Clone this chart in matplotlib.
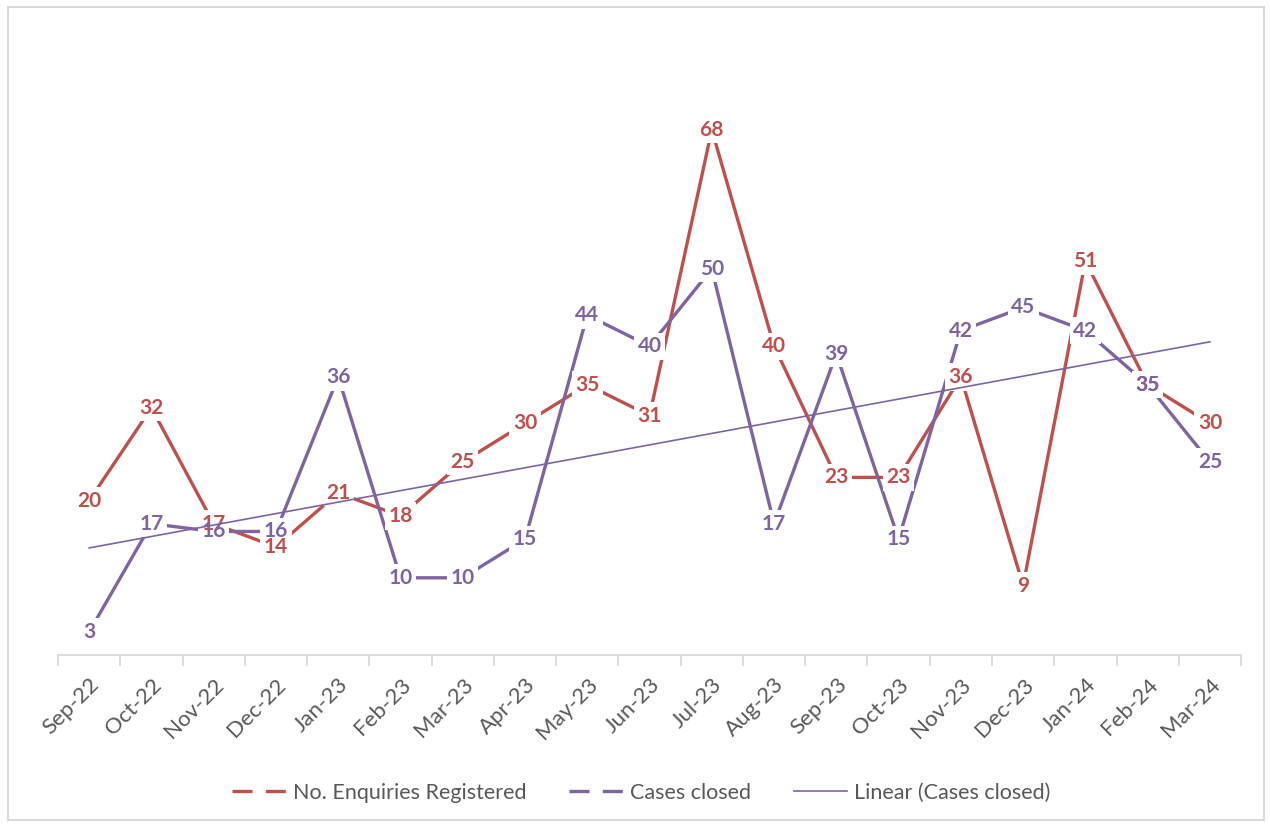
import numpy as np
import matplotlib.pyplot as plt
from matplotlib.lines import Line2D
from matplotlib.patches import Rectangle

months = ['Sep-22', 'Oct-22', 'Nov-22', 'Dec-22', 'Jan-23', 'Feb-23', 'Mar-23',
          'Apr-23', 'May-23', 'Jun-23', 'Jul-23', 'Aug-23', 'Sep-23', 'Oct-23',
          'Nov-23', 'Dec-23', 'Jan-24', 'Feb-24', 'Mar-24']
enquiries = [20, 32, 17, 14, 21, 18, 25, 30, 35, 31, 68, 40, 23, 23, 36, 9, 51, 35, 30]
closed = [3, 17, 16, 16, 36, 10, 10, 15, 44, 40, 50, 17, 39, 15, 42, 45, 42, 35, 25]

red = '#C0504D'
purple = '#8064A2'
grey = '#595959'

plt.rcParams['font.family'] = ['Lato', 'DejaVu Sans']

fig = plt.figure(figsize=(12.7, 8.25), dpi=100)
ax = fig.add_axes([0.0457, 0.206, 0.9315, 0.749])

x = np.arange(len(months))

ax.plot(x, enquiries, color=red, lw=2.4, zorder=3)
ax.plot(x, closed, color=purple, lw=2.4, zorder=3)

# data labels sit on the points; white boxes hide the lines underneath,
# text drawn in a layer above all boxes so close labels stay readable
for series, col in [(enquiries, red), (closed, purple)]:
    for xi, v in zip(x, series):
        ax.text(xi, v, str(v), color='none', fontsize=15, fontweight='bold',
                ha='center', va='center', zorder=4,
                bbox=dict(facecolor='white', edgecolor='none', pad=2.5))
        ax.text(xi, v, str(v), color=col, fontsize=15, fontweight='bold',
                ha='center', va='center', zorder=5)

# trend line for cases closed (drawn over the labels, as in the original)
coef = np.polyfit(x, closed, 1)
ax.plot(x, np.polyval(coef, x), color=purple, lw=1.2, zorder=6)

ax.set_xlim(-0.5, len(months) - 0.5)
ax.set_ylim(0, 80)
ax.set_yticks([])
for s in ['top', 'right', 'left']:
    ax.spines[s].set_visible(False)
ax.spines['bottom'].set_color('#D9D9D9')
ax.spines['bottom'].set_linewidth(1.3)

ax.set_xticks(x)
ax.set_xticklabels(months, rotation=45, ha='right', rotation_mode='anchor',
                   fontsize=16, color=grey)
ax.tick_params(axis='x', which='major', length=0, pad=14)
ax.set_xticks(np.arange(-0.5, len(months)), minor=True)
ax.tick_params(axis='x', which='minor', length=8, color='#D9D9D9', width=1.3)

handles = [Line2D([], [], color=red, lw=2.4, dashes=(6, 4)),
           Line2D([], [], color=purple, lw=2.4, dashes=(6, 4)),
           Line2D([], [], color=purple, lw=1.2)]
fig.legend(handles, ['No. Enquiries Registered', 'Cases closed', 'Linear (Cases closed)'],
           loc='center', bbox_to_anchor=(0.505, 0.039), ncol=3, frameon=False,
           fontsize=15.5, labelcolor=grey, handlelength=2.5, handletextpad=0.3,
           columnspacing=2.0)

fig.patches.append(Rectangle((0.006, 0.006), 0.989, 0.986, transform=fig.transFigure,
                             fill=False, edgecolor='#D9D9D9', lw=1.5))

plt.savefig('out.png', dpi=100)
